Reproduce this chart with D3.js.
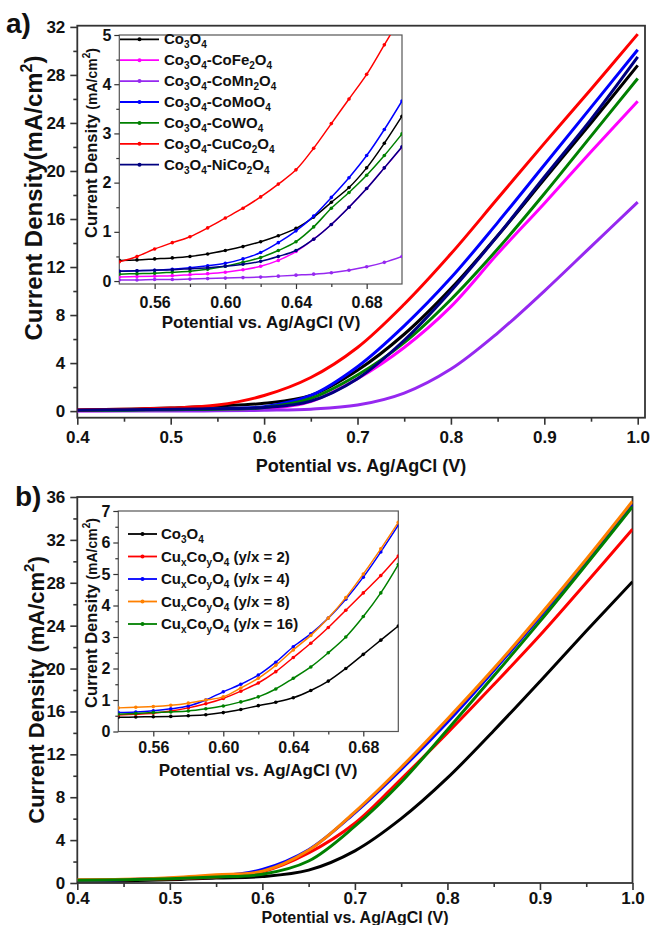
<!DOCTYPE html>
<html>
<head>
<meta charset="utf-8">
<script src="https://cdn.jsdelivr.net/npm/d3@7"></script>
<style>
body { margin: 0; background: #fff; }
svg { display: block; font-family: "Liberation Sans", Arial, sans-serif; font-weight: bold; }
</style>
</head>
<body>
<svg id="chart" width="650" height="925"></svg>
<script>
// potentials (V vs Ag/AgCl)
var voltageMain = [0.40, 0.45, 0.50, 0.55, 0.60, 0.65, 0.70, 0.75, 0.80, 0.85, 0.90, 0.95, 1.00];
var voltageInset = [0.54, 0.55, 0.56, 0.57, 0.58, 0.59, 0.60, 0.61, 0.62, 0.63, 0.64, 0.65, 0.66, 0.67, 0.68, 0.69, 0.70];

// panel a, main curves (mA/cm2)
var a_Co3O4 = [0.10, 0.15, 0.25, 0.43, 0.65, 1.30, 3.40, 6.40, 10.2, 14.6, 19.3, 24.0, 28.8];
var a_CoFe2O4 = [0.02, 0.04, 0.06, 0.09, 0.18, 0.80, 2.70, 5.30, 8.70, 13.1, 17.3, 21.6, 25.8];
var a_CoMn2O4 = [0.00, 0.01, 0.01, 0.02, 0.07, 0.16, 0.50, 1.50, 3.50, 6.50, 10.0, 13.7, 17.4];
var a_CoMoO4 = [0.08, 0.12, 0.17, 0.22, 0.37, 1.30, 3.70, 7.10, 11.1, 15.7, 20.5, 25.3, 30.1];
var a_CoWO4 = [0.05, 0.08, 0.12, 0.16, 0.29, 1.05, 3.00, 5.70, 9.30, 13.5, 18.1, 22.9, 27.7];
var a_CuCo2O4 = [0.10, 0.15, 0.25, 0.50, 1.30, 2.80, 5.30, 8.90, 13.1, 17.7, 22.3, 26.8, 31.4];
var a_NiCo2O4 = [0.08, 0.12, 0.16, 0.20, 0.29, 0.83, 2.70, 5.90, 10.0, 14.6, 19.5, 24.3, 29.5];

// panel a, inset curves
var ai_Co3O4 = [0.42, 0.43, 0.45, 0.47, 0.50, 0.55, 0.62, 0.70, 0.80, 0.92, 1.07, 1.30, 1.60, 1.90, 2.30, 2.80, 3.35];
var ai_CoFe2O4 = [0.08, 0.09, 0.10, 0.11, 0.13, 0.15, 0.18, 0.23, 0.30, 0.42, 0.60, 0.85, 1.15, 1.50, 1.88, 2.30, 2.72];
var ai_CoMn2O4 = [0.02, 0.02, 0.03, 0.03, 0.04, 0.05, 0.06, 0.07, 0.08, 0.10, 0.12, 0.14, 0.17, 0.22, 0.29, 0.38, 0.50];
var ai_CoMoO4 = [0.20, 0.21, 0.22, 0.24, 0.27, 0.31, 0.36, 0.45, 0.58, 0.78, 1.02, 1.32, 1.70, 2.10, 2.55, 3.08, 3.66];
var ai_CoWO4 = [0.14, 0.15, 0.16, 0.18, 0.20, 0.24, 0.30, 0.38, 0.48, 0.62, 0.80, 1.10, 1.48, 1.80, 2.15, 2.55, 2.99];
var ai_CuCo2O4 = [0.39, 0.50, 0.65, 0.78, 0.90, 1.08, 1.28, 1.48, 1.71, 1.97, 2.26, 2.70, 3.20, 3.70, 4.20, 4.80, 5.40];
var ai_NiCo2O4 = [0.20, 0.21, 0.22, 0.23, 0.25, 0.27, 0.30, 0.34, 0.40, 0.50, 0.62, 0.85, 1.15, 1.50, 1.88, 2.30, 2.73];

// panel b, main curves
var b_Co3O4 = [0.20, 0.22, 0.30, 0.47, 0.60, 1.20, 3.00, 6.00, 9.80, 14.2, 18.8, 23.5, 28.1];
var b_y2 = [0.25, 0.30, 0.40, 0.55, 1.05, 2.80, 5.57, 9.70, 14.0, 18.5, 23.1, 28.0, 33.0];
var b_y4 = [0.25, 0.30, 0.45, 0.62, 1.26, 3.10, 6.55, 10.6, 15.0, 19.8, 24.8, 30.0, 35.3];
var b_y8 = [0.30, 0.35, 0.50, 0.77, 1.10, 3.05, 6.64, 10.8, 15.3, 20.0, 25.0, 30.2, 35.6];
var b_y16 = [0.25, 0.30, 0.40, 0.57, 0.81, 2.05, 5.30, 9.40, 14.3, 19.3, 24.4, 29.7, 35.1];

// panel b, inset curves
var bi_Co3O4 = [0.45, 0.46, 0.47, 0.48, 0.50, 0.53, 0.60, 0.70, 0.82, 0.93, 1.07, 1.30, 1.60, 2.00, 2.45, 2.90, 3.35];
var bi_y2 = [0.52, 0.55, 0.58, 0.65, 0.75, 0.88, 1.05, 1.28, 1.54, 1.90, 2.35, 2.80, 3.30, 3.85, 4.40, 4.95, 5.57];
var bi_y4 = [0.60, 0.62, 0.66, 0.72, 0.81, 1.00, 1.26, 1.50, 1.79, 2.20, 2.69, 3.10, 3.60, 4.20, 4.90, 5.70, 6.55];
var bi_y8 = [0.75, 0.77, 0.79, 0.83, 0.90, 1.00, 1.10, 1.38, 1.69, 2.10, 2.59, 3.05, 3.60, 4.25, 5.00, 5.80, 6.64];
var bi_y16 = [0.55, 0.57, 0.60, 0.62, 0.65, 0.72, 0.81, 0.94, 1.10, 1.35, 1.69, 2.05, 2.50, 3.00, 3.65, 4.40, 5.30];

var namesA = ["Co_3O_4", "Co_3O_4-CoFe_2O_4", "Co_3O_4-CoMn_2O_4", "Co_3O_4-CoMoO_4", "Co_3O_4-CoWO_4", "Co_3O_4-CuCo_2O_4", "Co_3O_4-NiCo_2O_4"];
var colorsA = ["#000000", "#ff00ff", "#9628f0", "#0000ff", "#008000", "#ff0000", "#000080"];
var namesB = ["Co_3O_4", "Cu_xCo_yO_4 (y/x = 2)", "Cu_xCo_yO_4 (y/x = 4)", "Cu_xCo_yO_4 (y/x = 8)", "Cu_xCo_yO_4 (y/x = 16)"];
var colorsB = ["#000000", "#ff0000", "#0000ff", "#ff8000", "#008000"];

var ticksXMain = [0.4, 0.5, 0.6, 0.7, 0.8, 0.9, 1.0];
var ticksYMainA = [0, 4, 8, 12, 16, 20, 24, 28, 32];
var ticksYMainB = [0, 4, 8, 12, 16, 20, 24, 28, 32, 36];
var ticksXInset = [0.56, 0.60, 0.64, 0.68];
var ticksYInsetA = [0, 1, 2, 3, 4, 5];
var ticksYInsetB = [0, 1, 2, 3, 4, 5, 6, 7];

var mainA = [a_Co3O4, a_CoFe2O4, a_CoMn2O4, a_CoMoO4, a_CoWO4, a_CuCo2O4, a_NiCo2O4];
var insetA = [ai_Co3O4, ai_CoFe2O4, ai_CoMn2O4, ai_CoMoO4, ai_CoWO4, ai_CuCo2O4, ai_NiCo2O4];
var mainB = [b_Co3O4, b_y2, b_y4, b_y8, b_y16];
var insetB = [bi_Co3O4, bi_y2, bi_y4, bi_y8, bi_y16];

var svg = d3.select("#chart");
var axisColor = "#333";

// text with _x subscripts and ^x superscripts
function richText(text, str, big, small, shift) {
    var parts = str.split(/(_.|\^.)/).filter(function (s) { return s.length > 0; });
    var offset = 0;
    parts.forEach(function (p) {
        var target = 0, size = big, s = p;
        if (p.length == 2 && p[0] == "_") { target = shift; size = small; s = p[1]; }
        else if (p.length == 2 && p[0] == "^") { target = -shift * 1.7; size = small; s = p[1]; }
        text.append("tspan").attr("dy", target - offset).style("font-size", size + "px").text(s);
        offset = target;
    });
}

function midpoints(ticks, scale) {
    var step = ticks[1] - ticks[0];
    var dom = scale.domain();
    var out = [];
    for (var i = -1; i < ticks.length; i++) {
        var v = (i < 0 ? ticks[0] - step : ticks[i]) + step / 2;
        if (v > dom[0] + 1e-9 && v < dom[1] - 1e-9) out.push(v);
    }
    return out;
}

function addAxis(orient, scale, pos, major, fmt, o) {
    var make = orient == "bottom" ? d3.axisBottom : d3.axisLeft;
    var tr = orient == "bottom" ? "translate(0," + pos + ")" : "translate(" + pos + ",0)";
    var gMinor = svg.append("g").attr("transform", tr)
        .call(make(scale).tickValues(midpoints(major, scale)).tickSize(o.minor).tickFormat(""));
    var gMajor = svg.append("g").attr("transform", tr)
        .call(make(scale).tickValues(major).tickSize(o.major).tickPadding(o.pad).tickFormat(fmt));
    [gMinor, gMajor].forEach(function (g) {
        g.select(".domain").remove();
        g.selectAll("line").attr("stroke", axisColor).attr("stroke-width", o.width);
    });
    gMajor.selectAll("text").attr("fill", "#111")
        .style("font-size", o.font + "px").style("font-weight", "bold")
        .style("font-family", "'Liberation Sans', Arial, sans-serif");
}

function frame(x, y, id, width, stroke, fill) {
    var r = [x.range()[0], y.range()[1], x.range()[1] - x.range()[0], y.range()[0] - y.range()[1]];
    svg.append("clipPath").attr("id", id).append("rect")
        .attr("x", r[0]).attr("y", r[1]).attr("width", r[2]).attr("height", r[3]);
    return svg.append("rect").attr("x", r[0]).attr("y", r[1]).attr("width", r[2]).attr("height", r[3])
        .attr("fill", fill).attr("stroke", stroke).attr("stroke-width", width);
}

function drawCurves(x, y, xs, series, colors, clipId, width, markers) {
    var line = d3.line().curve(d3.curveCatmullRom.alpha(0.5))
        .x(function (d) { return x(d[0]); })
        .y(function (d) { return y(d[1]); });
    var g = svg.append("g").attr("clip-path", "url(#" + clipId + ")");
    series.forEach(function (vals, k) {
        var pts = vals.map(function (v, i) { return [xs[i], v]; });
        g.append("path").datum(pts).attr("d", line)
            .attr("fill", "none").attr("stroke", colors[k]).attr("stroke-width", width)
            .attr("stroke-linejoin", "round");
        if (markers) {
            g.selectAll(null).data(pts).enter().append("circle")
                .attr("cx", function (d) { return x(d[0]); })
                .attr("cy", function (d) { return y(d[1]); })
                .attr("r", 1.8).attr("fill", colors[k]);
        }
    });
}

function legend(names, colors, x0, x1, xt, y0, dy) {
    names.forEach(function (n, k) {
        var yy = y0 + k * dy;
        svg.append("line").attr("x1", x0).attr("x2", x1).attr("y1", yy).attr("y2", yy)
            .attr("stroke", colors[k]).attr("stroke-width", 1.8);
        svg.append("circle").attr("cx", (x0 + x1) / 2).attr("cy", yy).attr("r", 2).attr("fill", colors[k]);
        var t = svg.append("text").attr("x", xt).attr("y", yy + 5).attr("fill", "#111");
        richText(t, n, 15, 10, 4);
    });
}

function yTitle(x, y) {
    return svg.append("text").attr("transform", "translate(" + x + "," + y + ") rotate(-90)")
        .attr("text-anchor", "middle").attr("fill", "#111");
}

// ---------- panel a ----------
var xA = d3.scaleLinear().domain([0.4, 1.0078]).range([77.3, 645]);
var yA = d3.scaleLinear().domain([-0.55, 32.1]).range([417.7, 25.7]);
frame(xA, yA, "clipA", 1.8, axisColor, "none");
addAxis("bottom", xA, 417.7, ticksXMain, d3.format(".1f"), { major: 7, minor: 4, pad: 6, width: 1.6, font: 17 });
addAxis("left", yA, 77.3, ticksYMainA, d3.format("d"), { major: 7, minor: 4, pad: 5, width: 1.6, font: 17 });
drawCurves(xA, yA, voltageMain, mainA, colorsA, "clipA", 3, false);

svg.append("text").attr("x", 361).attr("y", 472).attr("text-anchor", "middle")
    .style("font-size", "18px").attr("fill", "#111").text("Potential vs. Ag/AgCl (V)");
richText(yTitle(42, 198), "Current Density(mA/cm^2)", 24, 16, 6);
svg.append("text").attr("x", 6).attr("y", 33).style("font-size", "28px").attr("fill", "#111").text("a)");

// inset a
var xIA = d3.scaleLinear().domain([0.54, 0.70]).range([119.3, 402]);
var yIA = d3.scaleLinear().domain([-0.06, 5]).range([284, 35]);
frame(xIA, yIA, "clipIA", 1.2, "#555", "#fff");
addAxis("bottom", xIA, 284, ticksXInset, d3.format(".2f"), { major: 5, minor: 3, pad: 8, width: 1.2, font: 16 });
addAxis("left", yIA, 119.3, ticksYInsetA, d3.format("d"), { major: 5, minor: 3, pad: 3, width: 1.2, font: 16 });
drawCurves(xIA, yIA, voltageInset, insetA, colorsA, "clipIA", 1.5, true);
legend(namesA, colorsA, 120, 159, 164, 39.3, 20.9);
svg.append("text").attr("x", 261).attr("y", 328).attr("text-anchor", "middle")
    .style("font-size", "17px").attr("fill", "#111").text("Potential vs. Ag/AgCl (V)");
var tIA = yTitle(97, 143);
tIA.append("tspan").style("font-size", "16.5px").text("Current Density ");
richText(tIA, "(mA/cm^2)", 14, 10, 4);

// ---------- panel b ----------
var xB = d3.scaleLinear().domain([0.4, 1.0]).range([77.3, 632.5]);
var yB = d3.scaleLinear().domain([0, 36]).range([883, 497]);
frame(xB, yB, "clipB", 1.8, axisColor, "none");
addAxis("bottom", xB, 883, ticksXMain, d3.format(".1f"), { major: 7, minor: 4, pad: 2, width: 1.6, font: 17 });
addAxis("left", yB, 77.3, ticksYMainB, d3.format("d"), { major: 7, minor: 4, pad: 5, width: 1.6, font: 17 });
drawCurves(xB, yB, voltageMain, mainB, colorsB, "clipB", 3, false);

svg.append("text").attr("x", 355).attr("y", 922.5).attr("text-anchor", "middle")
    .style("font-size", "16px").attr("fill", "#111").text("Potential vs. Ag/AgCl (V)");
richText(yTitle(44, 690), "Current Density (mA/cm^2)", 22, 15, 6);
svg.append("text").attr("x", 15).attr("y", 506).style("font-size", "28px").attr("fill", "#111").text("b)");

// inset b
var xIB = d3.scaleLinear().domain([0.54, 0.70]).range([118.3, 398.3]);
var yIB = d3.scaleLinear().domain([0, 7]).range([731.5, 511]);
frame(xIB, yIB, "clipIB", 1.2, "#555", "#fff");
addAxis("bottom", xIB, 731.5, ticksXInset, d3.format(".2f"), { major: 5, minor: 3, pad: 5, width: 1.2, font: 16 });
addAxis("left", yIB, 118.3, ticksYInsetB, d3.format("d"), { major: 5, minor: 3, pad: 3, width: 1.2, font: 16 });
drawCurves(xIB, yIB, voltageInset, insetB, colorsB, "clipIB", 1.5, true);
legend(namesB, colorsB, 128, 157, 161, 534, 22.5);
svg.append("text").attr("x", 258).attr("y", 776).attr("text-anchor", "middle")
    .style("font-size", "17px").attr("fill", "#111").text("Potential vs. Ag/AgCl (V)");
var tIB = yTitle(97, 613);
tIB.append("tspan").style("font-size", "16.5px").text("Current Density ");
richText(tIB, "(mA/cm^2)", 14, 10, 4);
</script>
</body>
</html>
